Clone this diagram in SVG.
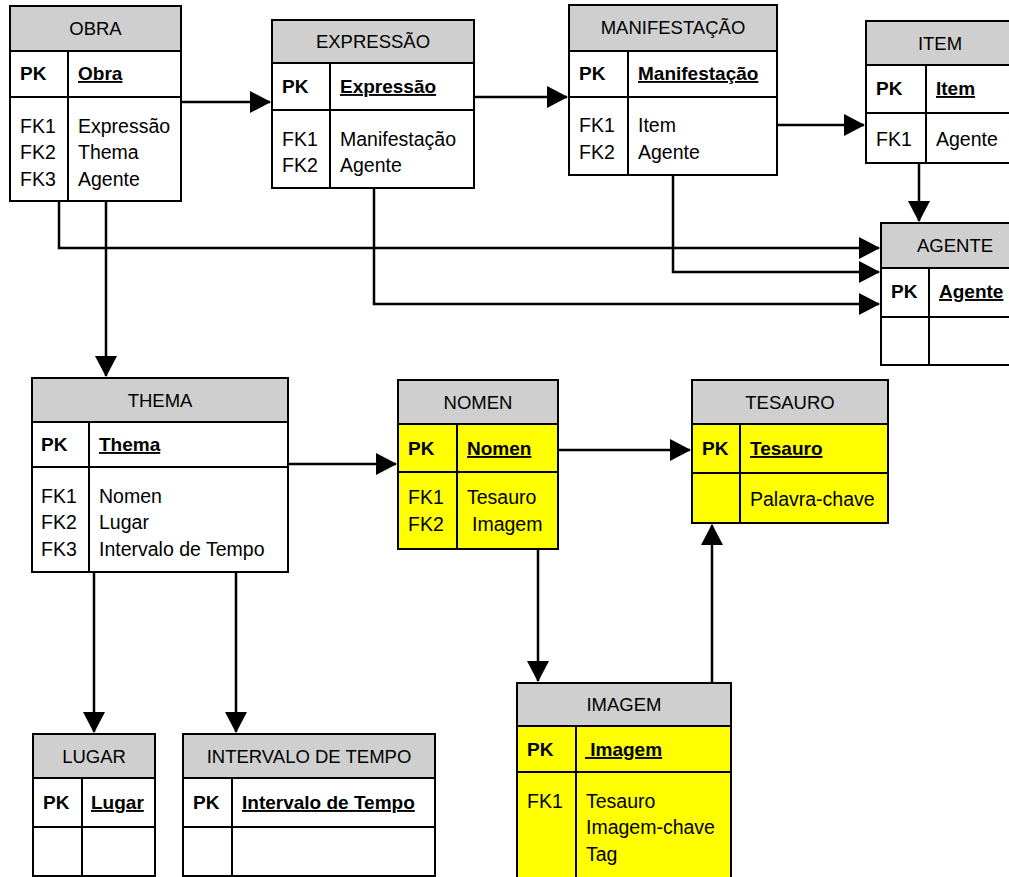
<svg xmlns="http://www.w3.org/2000/svg" width="1009" height="877" viewBox="0 0 1009 877">
<defs>
<style>
text{font-family:"Liberation Sans",Arial,sans-serif;font-size:19.5px;fill:#000}
.h{text-anchor:middle;font-size:18.5px}
.b{font-weight:bold;font-size:19px}
.u{font-weight:bold;font-size:19px;text-decoration:underline}
.box{fill:#fff;stroke:#000;stroke-width:2}
.y{fill:#ffff00;stroke:#000;stroke-width:2}
.hd{fill:#cfcfcf;stroke:#000;stroke-width:2}
.ln{stroke:#000;stroke-width:2}
.c{fill:none;stroke:#000;stroke-width:2.5}
</style>
<marker id="ah" markerUnits="userSpaceOnUse" markerWidth="21" markerHeight="22" refX="20" refY="11" orient="auto" viewBox="0 0 21 22">
<path d="M0,0 L21,11 L0,22 z" fill="#000"/>
</marker>
</defs>
<rect width="1009" height="877" fill="#fff"/>

<g id="connectors">
<path class="c" d="M181,102 H270" marker-end="url(#ah)"/>
<path class="c" d="M474,97 H567" marker-end="url(#ah)"/>
<path class="c" d="M777,125 H864" marker-end="url(#ah)"/>
<path class="c" d="M919,163 V221" marker-end="url(#ah)"/>
<path class="c" d="M59,201 V248 H879" marker-end="url(#ah)"/>
<path class="c" d="M673,175 V272 H879" marker-end="url(#ah)"/>
<path class="c" d="M374,188 V304 H879" marker-end="url(#ah)"/>
<path class="c" d="M106,201 V376" marker-end="url(#ah)"/>
<path class="c" d="M288,464 H396" marker-end="url(#ah)"/>
<path class="c" d="M558,450 H690" marker-end="url(#ah)"/>
<path class="c" d="M538,549 V681" marker-end="url(#ah)"/>
<path class="c" d="M712,683 V525" marker-end="url(#ah)"/>
<path class="c" d="M94,572 V732" marker-end="url(#ah)"/>
<path class="c" d="M236,572 V732" marker-end="url(#ah)"/>
</g>

<g id="obra">
<rect class="box" x="10" y="6" width="171" height="195"/>
<rect class="hd" x="10" y="6" width="171" height="45"/>
<line class="ln" x1="10" y1="97" x2="181" y2="97"/>
<line class="ln" x1="68" y1="51" x2="68" y2="201"/>
<text class="h" x="95.5" y="35">OBRA</text>
<text class="b" x="20" y="80">PK</text>
<text class="u" x="78" y="80">Obra</text>
<text x="20" y="133">FK1</text><text x="78" y="133">Expressão</text>
<text x="20" y="159">FK2</text><text x="78" y="159">Thema</text>
<text x="20" y="186">FK3</text><text x="78" y="186">Agente</text>
</g>

<g id="expressao">
<rect class="box" x="272" y="20" width="202" height="168"/>
<rect class="hd" x="272" y="20" width="202" height="43"/>
<line class="ln" x1="272" y1="110" x2="474" y2="110"/>
<line class="ln" x1="330" y1="63" x2="330" y2="188"/>
<text class="h" x="373" y="48">EXPRESSÃO</text>
<text class="b" x="282" y="93">PK</text>
<text class="u" x="340" y="93">Expressão</text>
<text x="282" y="146">FK1</text><text x="340" y="146">Manifestação</text>
<text x="282" y="172">FK2</text><text x="340" y="172">Agente</text>
</g>

<g id="manifestacao">
<rect class="box" x="569" y="5" width="208" height="170"/>
<rect class="hd" x="569" y="5" width="208" height="46"/>
<line class="ln" x1="569" y1="97" x2="777" y2="97"/>
<line class="ln" x1="628" y1="51" x2="628" y2="175"/>
<text class="h" x="673" y="34">MANIFESTAÇÃO</text>
<text class="b" x="579" y="80">PK</text>
<text class="u" x="638" y="80">Manifestação</text>
<text x="579" y="132">FK1</text><text x="638" y="132">Item</text>
<text x="579" y="159">FK2</text><text x="638" y="159">Agente</text>
</g>

<g id="item">
<rect class="box" x="866" y="21" width="150" height="142"/>
<rect class="hd" x="866" y="21" width="150" height="44"/>
<line class="ln" x1="866" y1="113" x2="1016" y2="113"/>
<line class="ln" x1="926" y1="65" x2="926" y2="163"/>
<text class="h" x="940" y="50">ITEM</text>
<text class="b" x="876" y="95">PK</text>
<text class="u" x="936" y="95">Item</text>
<text x="876" y="146">FK1</text><text x="936" y="146">Agente</text>
</g>

<g id="agente">
<rect class="box" x="881" y="223" width="135" height="142"/>
<rect class="hd" x="881" y="223" width="135" height="45"/>
<line class="ln" x1="881" y1="317" x2="1016" y2="317"/>
<line class="ln" x1="929" y1="268" x2="929" y2="365"/>
<text class="h" x="955" y="252">AGENTE</text>
<text class="b" x="891" y="298">PK</text>
<text class="u" x="939" y="298">Agente</text>
</g>

<g id="thema">
<rect class="box" x="32" y="378" width="256" height="194"/>
<rect class="hd" x="32" y="378" width="256" height="44"/>
<line class="ln" x1="32" y1="467" x2="288" y2="467"/>
<line class="ln" x1="89" y1="422" x2="89" y2="572"/>
<text class="h" x="160" y="407">THEMA</text>
<text class="b" x="41" y="451">PK</text>
<text class="u" x="99" y="451">Thema</text>
<text x="41" y="503">FK1</text><text x="99" y="503">Nomen</text>
<text x="41" y="529">FK2</text><text x="99" y="529">Lugar</text>
<text x="41" y="556">FK3</text><text x="99" y="556">Intervalo de Tempo</text>
</g>

<g id="nomen">
<rect class="y" x="398" y="380" width="160" height="169"/>
<rect class="hd" x="398" y="380" width="160" height="44"/>
<line class="ln" x1="398" y1="472" x2="558" y2="472"/>
<line class="ln" x1="457" y1="424" x2="457" y2="549"/>
<text class="h" x="478" y="409">NOMEN</text>
<text class="b" x="408" y="455">PK</text>
<text class="u" x="467" y="455">Nomen</text>
<text x="408" y="504">FK1</text><text x="467" y="504">Tesauro</text>
<text x="408" y="531">FK2</text><text x="472" y="531">Imagem</text>
</g>

<g id="tesauro">
<rect class="y" x="692" y="380" width="196" height="143"/>
<rect class="hd" x="692" y="380" width="196" height="44"/>
<line class="ln" x1="692" y1="473" x2="888" y2="473"/>
<line class="ln" x1="740" y1="424" x2="740" y2="523"/>
<text class="h" x="790" y="409">TESAURO</text>
<text class="b" x="702" y="455">PK</text>
<text class="u" x="750" y="455">Tesauro</text>
<text x="750" y="506">Palavra-chave</text>
</g>

<g id="imagem">
<rect class="y" x="517" y="683" width="214" height="200"/>
<rect class="hd" x="517" y="683" width="214" height="43"/>
<line class="ln" x1="517" y1="772" x2="731" y2="772"/>
<line class="ln" x1="576" y1="726" x2="576" y2="883"/>
<text class="h" x="624" y="711">IMAGEM</text>
<text class="b" x="527" y="756">PK</text>
<text class="u" x="585" y="756" xml:space="preserve"> Imagem</text>
<text x="527" y="808">FK1</text><text x="586" y="808">Tesauro</text>
<text x="586" y="834">Imagem-chave</text>
<text x="586" y="861">Tag</text>
</g>

<g id="lugar">
<rect class="box" x="33" y="734" width="122" height="142"/>
<rect class="hd" x="33" y="734" width="122" height="44"/>
<line class="ln" x1="33" y1="827" x2="155" y2="827"/>
<line class="ln" x1="82" y1="778" x2="82" y2="876"/>
<text class="h" x="94" y="763">LUGAR</text>
<text class="b" x="43" y="809">PK</text>
<text class="u" x="91" y="809">Lugar</text>
</g>

<g id="intervalo">
<rect class="box" x="183" y="734" width="252" height="142"/>
<rect class="hd" x="183" y="734" width="252" height="44"/>
<line class="ln" x1="183" y1="827" x2="435" y2="827"/>
<line class="ln" x1="232" y1="778" x2="232" y2="876"/>
<text class="h" x="309" y="763">INTERVALO DE TEMPO</text>
<text class="b" x="193" y="809">PK</text>
<text class="u" x="242" y="809">Intervalo de Tempo</text>
</g>
</svg>
